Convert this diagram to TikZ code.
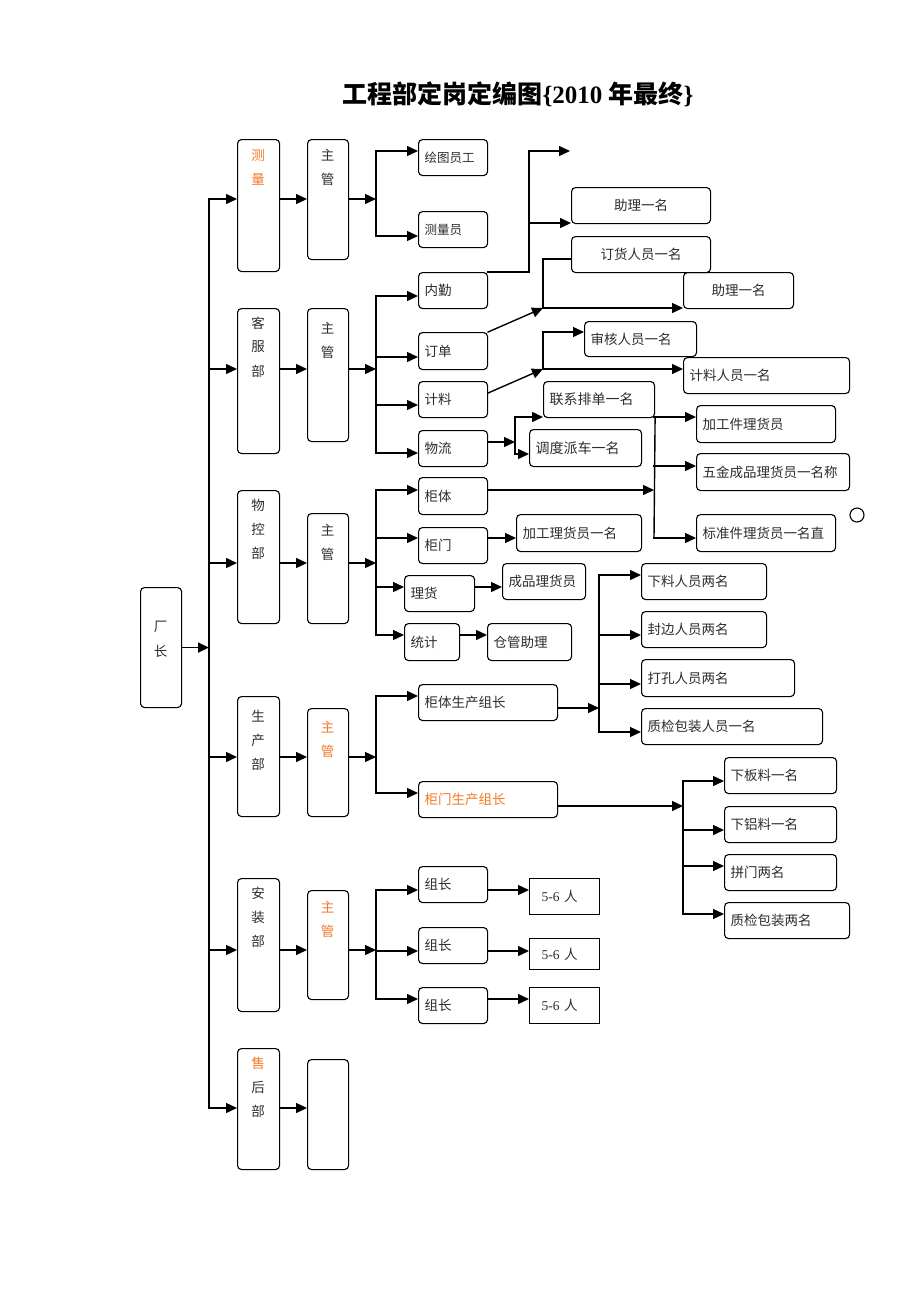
\documentclass[tikz,border=0pt]{standalone}
\usepackage{fontspec}
\usetikzlibrary{arrows.meta}
\newfontfamily\cjk{Noto Sans CJK SC}
\newfontfamily\tms{Liberation Serif}
\definecolor{org}{RGB}{245,120,40}
\definecolor{txt}{RGB}{45,45,45}
\tikzset{
  box/.style={draw=black, line width=1.1pt, rounded corners=4pt, anchor=north west,
    inner ysep=0pt, inner xsep=6pt, align=left, font=\cjk\fontsize{13.5}{15}\selectfont, text=txt},
  ln/.style={line width=1.4pt, line cap=rect},
  arr/.style={line width=1.4pt, line cap=rect, -{Triangle[length=11pt,width=10pt]}},
  vt/.style={font=\cjk\fontsize{13.5}{15}\selectfont, text=txt, inner sep=0pt},
}
\newcommand\mybox[7][]{\pgfmathsetmacro\tw{#5-12}\node[box,text width=\tw pt,minimum width=#5pt,minimum height=#6pt,#1] (#2) at (#3,-#4) {#7};}
\newcommand\vlab[4]{\foreach \c [count=\i from 0] in {#4} {\node[vt] (#1-\i) at (#2,{-(#3+24*\i)}) {\c};}}
\begin{document}
\begin{tikzpicture}[x=1pt,y=1pt]
\useasboundingbox (0,0) rectangle (920,-1302);
\fill[white] (0,0) rectangle (920,-1302);
% title
\node[inner sep=0pt] (title) at (518,-94) {\fontsize{25}{28}\selectfont{\cjk\bfseries 工程部定岗定编图}{\tms\bfseries\{2010 }{\cjk\bfseries 年最终}{\tms\bfseries\}}};
% column boxes
\mybox{ceo}{140}{587}{41}{120}{}
\mybox{d1}{237}{139}{42}{132}{}
\mybox{d2}{237}{308}{42}{145}{}
\mybox{d3}{237}{490}{42}{133}{}
\mybox{d4}{237}{696}{42}{120}{}
\mybox{d5}{237}{878}{42}{133}{}
\mybox{d6}{237}{1048}{42}{121}{}
\mybox{m1}{307}{139}{41}{120}{}
\mybox{m2}{307}{308}{41}{133}{}
\mybox{m3}{307}{513}{41}{110}{}
\mybox{m4}{307}{708}{41}{108}{}
\mybox{m5}{307}{890}{41}{109}{}
\mybox{m6}{307}{1059}{41}{110}{}
% vertical labels
\vlab{ceot}{160.5}{627}{厂,长}
\vlab{d1t}{258}{155}{\textcolor{org}{测},\textcolor{org}{量}}
\vlab{d2t}{258}{323}{客,服,部}
\vlab{d3t}{258}{505}{物,控,部}
\vlab{d4t}{258}{716}{生,产,部}
\vlab{d5t}{258}{893}{安,装,部}
\vlab{d6t}{258}{1063}{\textcolor{org}{售},后,部}
\vlab{m1t}{327.5}{155}{主,管}
\vlab{m2t}{327.5}{328}{主,管}
\vlab{m3t}{327.5}{530}{主,管}
\vlab{m4t}{327.5}{727}{\textcolor{org}{主},\textcolor{org}{管}}
\vlab{m5t}{327.5}{907}{\textcolor{org}{主},\textcolor{org}{管}}
% level 3 boxes
\mybox[font=\cjk\fontsize{12.5}{14}\selectfont]{a1}{418}{139}{69}{36}{绘图员工}
\mybox[font=\cjk\fontsize{12.5}{14}\selectfont]{a2}{418}{211}{69}{36}{测量员}
\mybox{k1}{418}{272}{69}{36}{内勤}
\mybox{k2}{418}{332}{69}{37}{订单}
\mybox{k3}{418}{381}{69}{36}{计料}
\mybox{k4}{418}{430}{69}{36}{物流}
\mybox[align=center]{zl1}{571}{187}{139}{36}{助理一名}
\mybox[align=center]{dh}{571}{236}{139}{36}{订货人员一名}
\mybox[align=center]{zl2}{683}{272}{110}{36}{助理一名}
\mybox{sh}{584}{321}{112}{35}{审核人员一名}
\mybox{jl}{683}{357}{166}{36}{计料人员一名}
\mybox[font=\cjk\fontsize{14}{16}\selectfont]{lx}{543}{381}{111}{36}{联系排单一名}
\mybox[font=\cjk\fontsize{14}{16}\selectfont]{dd}{529}{429}{112}{37}{调度派车一名}
\mybox{jg}{696}{405}{139}{37}{加工件理货员}
\mybox{wj}{696}{453}{153}{37}{五金成品理货员一名称}
\mybox{bz}{696}{514}{139}{37}{标准件理货员一名直}
\mybox{w1}{418}{477}{69}{37}{柜体}
\mybox{w2}{418}{527}{69}{36}{柜门}
\mybox{w3}{404}{575}{70}{36}{理货}
\mybox{w4}{404}{623}{55}{37}{统计}
\mybox{jl2}{516}{514}{125}{37}{加工理货员一名}
\mybox{cp}{502}{563}{83}{36}{成品理货员}
\mybox{cg}{487}{623}{84}{37}{仓管助理}
\mybox{g1}{418}{684}{139}{36}{柜体生产组长}
\mybox[text=org]{g2}{418}{781}{139}{36}{柜门生产组长}
\mybox{p1}{641}{563}{125}{36}{下料人员两名}
\mybox{p2}{641}{611}{125}{36}{封边人员两名}
\mybox{p3}{641}{659}{153}{37}{打孔人员两名}
\mybox{p4}{641}{708}{181}{36}{质检包装人员一名}
\mybox{q1}{724}{757}{112}{36}{下板料一名}
\mybox{q2}{724}{806}{112}{36}{下铝料一名}
\mybox{q3}{724}{854}{112}{36}{拼门两名}
\mybox{q4}{724}{902}{125}{36}{质检包装两名}
\mybox{z1}{418}{866}{69}{36}{组长}
\mybox{z2}{418}{927}{69}{36}{组长}
\mybox{z3}{418}{987}{69}{36}{组长}
\mybox[sharp corners]{r1}{529}{878}{70}{36}{\hspace{6pt}{\tms 5-6 }人}
\mybox[sharp corners]{r2}{529}{938}{70}{31}{\hspace{6pt}{\tms 5-6 }人}
\mybox[sharp corners]{r3}{529}{987}{70}{36}{\hspace{6pt}{\tms 5-6 }人}
\draw[line width=1.1pt] (857,-515) circle[radius=7pt];
% trunk
\draw[ln] (209,-199) -- (209,-1108);
\draw[arr] (ceo.east) -- (ceo.east -| 209,0);
\foreach \d/\m/\y in {d1/m1/199, d2/m2/369, d3/m3/563, d4/m4/757, d5/m5/950, d6/m6/1108} {
  \draw[arr] (209,-\y) -- (\d.west |- 0,-\y);
  \draw[arr] (\d.east |- 0,-\y) -- (\m.west |- 0,-\y);
}
\foreach \m/\y in {m1/199, m2/369, m3/563, m4/757, m5/950}
  \draw[arr] (\m.east |- 0,-\y) -- (376,-\y);
% branches
\draw[ln] (376,-151) -- (376,-236);
\draw[ln] (376,-296) -- (376,-453);
\draw[ln] (376,-490) -- (376,-635);
\draw[ln] (376,-696) -- (376,-793);
\draw[ln] (376,-890) -- (376,-999);
\foreach \n/\y in {a1/151, a2/236, k1/296, k2/357, k3/405, k4/453, w1/490, w2/538, w3/587, w4/635, g1/696, g2/793, z1/890, z2/951, z3/999}
  \draw[arr] (376,-\y) -- (\n.west |- 0,-\y);
% 内勤
\coordinate (fe) at (570,-151);
\draw[ln] (k1.north east) -- (529,-272) -- (529,-151);
\draw[arr] (529,-151) -- (fe);
\draw[arr] (529,-223) -- (zl1.west |- 0,-223);
% 订单
\draw[arr] (k2.north east) -- (543,-308);
\draw[ln] (543,-308) -- (543,-259) -- (dh.west |- 0,-259);
\draw[arr] (543,-308) -- (zl2.west |- 0,-308);
% 计料
\draw[arr] (k3.east |- 0,-393) -- (543,-369);
\draw[arr] (543,-369) -- (543,-332) -- (sh.west |- 0,-332);
\draw[arr] (543,-369) -- (jl.west |- 0,-369);
% 物流
\draw[arr] (k4.east |- 0,-442) -- (515,-442);
\draw[ln] (515,-417) -- (515,-454);
\draw[arr] (515,-417) -- (lx.west |- 0,-417);
\draw[arr] (515,-454) -- (dd.west |- 0,-454);
\draw[ln] (lx.south east) -- (654,-538);
\draw[arr] (654,-417) -- (jg.west |- 0,-417);
\draw[arr] (654,-466) -- (wj.west |- 0,-466);
\draw[arr] (654,-538) -- (bz.west |- 0,-538);
% 物控
\draw[arr] (w1.east |- 0,-490) -- (654,-490);
\draw[arr] (w2.east |- 0,-538) -- (jl2.west |- 0,-538);
\draw[arr] (w3.east |- 0,-587) -- (cp.west |- 0,-587);
\draw[arr] (w4.east |- 0,-635) -- (cg.west |- 0,-635);
% 生产
\draw[arr] (g1.east |- 0,-708) -- (599,-708);
\draw[ln] (599,-575) -- (599,-732);
\foreach \n/\y in {p1/575, p2/635, p3/684, p4/732}
  \draw[arr] (599,-\y) -- (\n.west |- 0,-\y);
\draw[arr] (g2.east |- 0,-806) -- (683,-806);
\draw[ln] (683,-781) -- (683,-914);
\foreach \n/\y in {q1/781, q2/830, q3/866, q4/914}
  \draw[arr] (683,-\y) -- (\n.west |- 0,-\y);
% 安装
\foreach \a/\b/\y in {z1/r1/890, z2/r2/951, z3/r3/999}
  \draw[arr] (\a.east |- 0,-\y) -- (\b.west |- 0,-\y);
\end{tikzpicture}
\end{document}
